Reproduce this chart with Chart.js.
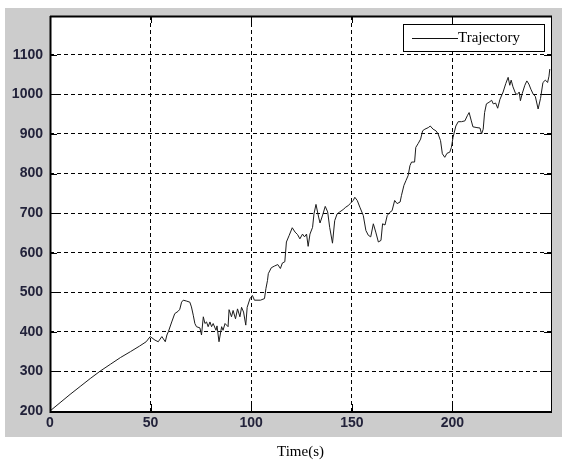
<!DOCTYPE html>
<html>
<head>
<meta charset="utf-8">
<script src="https://cdn.jsdelivr.net/npm/chart.js@4.4.1/dist/chart.umd.min.js"></script>
<style>
html,body{margin:0;padding:0;background:#fff;}
canvas{display:block;}
</style>
</head>
<body>
<canvas id="c" width="563" height="464"></canvas>
<script>
const seriesLabel = "Trajectory";
const xAxisTitle = "Time(s)";
const xTicks = [0, 50, 100, 150, 200];
const yTicks = [200, 300, 400, 500, 600, 700, 800, 900, 1000, 1100];
const timeS = [0,5,10,15,20,25,30,35,40,44.5,47.8,49.8,52.2,53.8,55.6,57.3,58.1,58.8,60.5,62,63.7,64.5,65.4,66.2,67.7,69.5,70.3,71.2,72,72.8,74.5,75.3,76.2,77,77.8,78.6,79.5,80.3,81.1,82.5,83,84,85.3,86,87,88.5,89,90.2,91,92.2,93.2,94.4,95.2,96.2,97.3,98,99.4,100.6,101.6,104.6,106.6,107.3,108.1,108.5,110,111.5,113.2,114.5,115.5,116.7,117.5,118.9,120.4,121.8,123,124.2,125.5,126.5,127.5,128.3,129.2,130.5,131.2,132.2,133.5,134.2,135.5,136.8,138,139,140.4,141.5,142.7,144,145.7,147,148.2,149.4,150.7,151.5,152.7,154,155.7,157,158.2,159.4,160.7,161.9,163.2,164.5,165.3,166.5,167.6,168.9,170,171.3,172.5,174,174.7,175.9,176.9,178,178.9,179.7,181.2,181.8,183,184.2,185.2,186.3,188,189,190.4,191.8,192.9,194.1,195,196.2,197.3,198.7,199.5,200.3,201.7,202.9,204.5,206.2,207.4,208.3,209.4,210.2,212.2,213.7,214.5,215.3,216,216.9,218.2,219.5,220.3,221.5,222.5,223.6,225.2,226.5,227.7,228.5,229.2,230.1,231.4,232.3,233.2,233.8,234.7,236,237,238,239,240.2,241.2,242.6,243.8,245,246.2,247.3,248,248.4];
const trajectory = [200,221,242,262,282,301,318,335,350,364,375,388,379,375,388,375,392,400,425,446,452,457,475,480,478,475,463,442,421,413,410,392,438,421,425,413,425,413,421,404,415,375,413,404,421,413,456,438,454,433,458,438,462,450,417,462,484,492,480,480,484,509,530,547,562,566,570,560,574,577,627,644,663,652,646,635,647,640,647,616,647,664,698,722,690,675,695,717,703,664,624,681,698,703,709,715,719,725,732,740,732,715,694,656,644,640,673,652,627,631,673,670,694,702,706,732,724,728,745,770,782,795,820,829,829,866,876,887,908,912,916,920,912,908,900,883,850,841,851,854,866,891,920,931,931,933,946,954,933,918,916,915,900,912,954,976,980,985,976,978,965,987,1006,1027,1043,1023,1036,1019,1002,1000,1006,984,1002,1023,1034,1026,1013,1000,995,963,990,1030,1036,1030,1046,1064];
const xRange = [0, 249];
const yRange = [200, 1198];

const points = timeS.map((t, i) => ({x: t, y: trajectory[i]}));
const tickColor = '#22223a';

const framePlugin = {
  id: 'frame',
  beforeDraw(chart) {
    const ctx = chart.ctx;
    ctx.save();
    ctx.fillStyle = '#ffffff';
    ctx.fillRect(0, 0, chart.width, chart.height);
    ctx.fillStyle = '#cccccc';
    ctx.fillRect(5, 8, 557, 429);
    const a = chart.chartArea;
    ctx.fillStyle = '#ffffff';
    ctx.fillRect(a.left, a.top, a.right - a.left, a.bottom - a.top);
    ctx.restore();
  },
  afterDraw(chart) {
    const ctx = chart.ctx;
    const a = chart.chartArea;
    const xs = chart.scales.x, ys = chart.scales.y;
    ctx.save();
    ctx.strokeStyle = '#000';
    ctx.lineWidth = 1;
    const tl = 7;
    ctx.beginPath();
    xTicks.forEach(v => {
      const px = Math.round(xs.getPixelForValue(v)) + 0.5;
      ctx.moveTo(px, a.top); ctx.lineTo(px, a.top + tl);
      ctx.moveTo(px, a.bottom); ctx.lineTo(px, a.bottom - tl);
    });
    yTicks.forEach(v => {
      const py = Math.round(ys.getPixelForValue(v)) + 0.5;
      ctx.moveTo(a.left, py); ctx.lineTo(a.left + tl, py);
      ctx.moveTo(a.right, py); ctx.lineTo(a.right - tl, py);
    });
    ctx.stroke();
    ctx.lineWidth = 1;
    ctx.strokeRect(Math.round(a.left) + 0.5, Math.round(a.top) + 0.5, Math.round(a.right - a.left), Math.round(a.bottom - a.top));
    ctx.lineWidth = 2;
    ctx.beginPath();
    ctx.moveTo(a.left + 0.5, a.top);
    ctx.lineTo(a.left + 0.5, a.bottom + 1);
    ctx.lineTo(a.right + 1, a.bottom + 1);
    ctx.stroke();
    ctx.beginPath();
    ctx.moveTo(a.left, a.top + 0.5);
    ctx.lineTo(a.right + 1, a.top + 0.5);
    ctx.stroke();
    const lx = 403, ly = 24, lw = 141, lh = 27;
    ctx.fillStyle = '#fff';
    ctx.fillRect(lx, ly, lw, lh);
    ctx.lineWidth = 1;
    ctx.strokeStyle = '#000';
    ctx.strokeRect(lx + 0.5, ly + 0.5, lw, lh);
    ctx.beginPath();
    ctx.moveTo(412, ly + 14.5);
    ctx.lineTo(458, ly + 14.5);
    ctx.strokeStyle = '#111';
    ctx.stroke();
    ctx.fillStyle = '#000';
    ctx.font = '15px "Liberation Serif", "Times New Roman", serif';
    ctx.textBaseline = 'middle';
    ctx.textAlign = 'left';
    ctx.fillText(chart.data.datasets[0].label, 458, ly + 14);
    ctx.textAlign = 'center';
    ctx.fillText(xAxisTitle, (a.left + a.right) / 2, 452);
    ctx.restore();
  }
};

const tickFont = {family: '"Liberation Sans", Arial, sans-serif', size: 14, weight: 'bold'};

new Chart(document.getElementById('c'), {
  type: 'line',
  data: {
    datasets: [{
      label: seriesLabel,
      data: points,
      borderColor: '#1c1c1c',
      borderWidth: 1,
      pointRadius: 0,
      tension: 0,
      fill: false
    }]
  },
  options: {
    responsive: false,
    animation: false,
    devicePixelRatio: 1,
    layout: {padding: {top: 16, right: 12, left: 0, bottom: 0}},
    plugins: {legend: {display: false}, tooltip: {enabled: false}},
    scales: {
      x: {
        type: 'linear',
        min: xRange[0], max: xRange[1],
        afterBuildTicks(s) { s.ticks = xTicks.map(v => ({value: v})); },
        afterFit(s) { s.height = 53; },
        grid: {color: '#000', lineWidth: 1, drawTicks: false},
        border: {display: false, dash: [4, 3]},
        ticks: {color: tickColor, font: tickFont, padding: 4, maxRotation: 0, callback: v => String(v)}
      },
      y: {
        type: 'linear',
        min: yRange[0], max: yRange[1],
        afterBuildTicks(s) { s.ticks = yTicks.map(v => ({value: v})); },
        afterFit(s) { s.width = 50; },
        grid: {color: '#000', lineWidth: 1, drawTicks: false},
        border: {display: false, dash: [4, 3]},
        ticks: {color: tickColor, font: tickFont, padding: 7, callback: v => String(v)}
      }
    }
  },
  plugins: [framePlugin]
});
</script>
</body>
</html>
